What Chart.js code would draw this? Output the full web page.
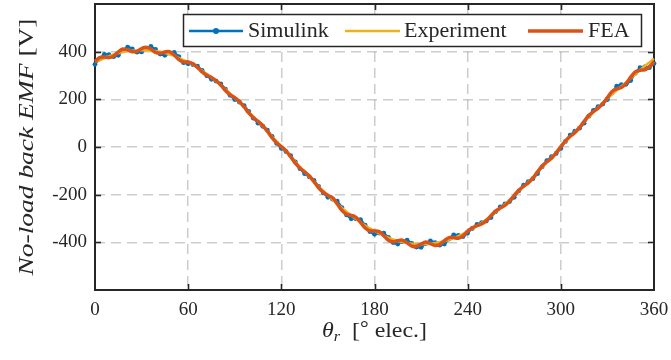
<!DOCTYPE html>
<html><head><meta charset="utf-8">
<script src="https://cdn.jsdelivr.net/npm/chart.js@4.4.0/dist/chart.umd.min.js"></script>
<style>html,body{margin:0;padding:0;background:#fff;}#wrap{width:671px;height:360px;}</style>
</head><body><div id="wrap"><canvas id="c" width="671" height="360"></canvas></div>
<script>
const thetaSim = [0,3,6,9,12,15,18,21,24,27,30,33,36,39,42,45,48,51,54,57,60,63,66,69,72,75,78,81,84,87,90,93,96,99,102,105,108,111,114,117,120,123,126,129,132,135,138,141,144,147,150,153,156,159,162,165,168,171,174,177,180,183,186,189,192,195,198,201,204,207,210,213,216,219,222,225,228,231,234,237,240,243,246,249,252,255,258,261,264,267,270,273,276,279,282,285,288,291,294,297,300,303,306,309,312,315,318,321,324,327,330,333,336,339,342,345,348,351,354,357,360];
const simulink = [347,369,389,387,379,385,405,419,412,398,399,413,422,409,390,385,394,397,379,354,
  349,346,339,321,299,284,276,265,243,217,199,188,174,149,121,100,87,71,45,15,-6,-19,-36,-62,-91,-112,-125,-140,-165,-192,-211,
  -219,-227,-254,-285,-301,-301,-305,-328,-355,-366,-361,-361,-379,-401,-407,-397,-391,-404,-420,-421,-405,-394,-401,-412,-407,-386,-369,-371,-376,
  -361,-342,-325,-317,-311,-296,-272,-251,-239,-229,-211,-184,-160,-145,-133,-112,-83,-57,-41,-27,-6,23,50,66,79,100,129,154,169,180,199,
  227,255,262,263,279,309,333,336,333,350];
const thetaFea = thetaSim;
const fea = [358,375,378,375,382,399,411,408,400,401,413,419,411,397,393,399,400,386,367,357,
  357,349,334,315,301,292,279,260,237,219,207,191,169,143,123,108,90,66,39,17,2,-16,-41,-68,-89,-104,-122,-145,-171,-190,-203,
  -213,-238,-266,-282,-287,-295,-316,-340,-352,-352,-355,-372,-391,-398,-393,-391,-402,-416,-417,-407,-399,-405,-413,-409,-393,-380,-380,-383,-373,
  -353,-339,-330,-323,-309,-288,-269,-256,-245,-227,-203,-181,-165,-151,-131,-104,-80,-62,-47,-25,2,26,45,60,81,108,132,149,163,182,207,
  233,244,250,266,293,315,322,324,336,358];
const thetaExp = [0,6,12,18,24,30,36,42,48,54,60,66,72,78,84,90,96,102,108,114,120,126,132,138,144,150,156,162,168,174,180,186,192,198,204,210,216,222,228,234,240,246,252,258,264,270,276,282,288,294,300,306,312,318,324,330,336,342,348,354,360];
const experiment = [358,372,388,398,404,406,405,400,389,374,356,333,306,276,243,206,167,127,86,44,2,-41,-83,-125,-165,-203,-239,-272,-302,-330,-352,-372,-388,-399,-406,-408,-406,-400,-389,-374,-354,-331,-304,-274,-240,-204,-166,-126,-85,-43,0,42,84,125,165,203,238,271,305,340,370];
const xTicks = [0,60,120,180,240,300,360];
const yTicks = [-400,-200,0,200,400];
const seriesNames = ['Simulink','Experiment','FEA'];
const seriesColors = ['#0072BD','#EDB120','#D95319'];

const TXT = '#262626';
const SERIF = '"Liberation Serif", "DejaVu Serif", serif';

function pts(xs, ys){ return xs.map((x,i)=>({x:x,y:ys[i]})); }

function drawRuns(ctx, runs, cx, base, targetW){
  let total = 0;
  runs.forEach(r=>{ ctx.font = r.font; r.w = ctx.measureText(r.text).width; total += r.w; });
  const s = targetW ? targetW/total : 1;
  ctx.save();
  ctx.translate(cx, base);
  ctx.scale(s,1);
  let x = -total/2;
  ctx.textBaseline = 'alphabetic';
  ctx.textAlign = 'left';
  runs.forEach(r=>{ ctx.font = r.font; ctx.fillText(r.text, x, r.dy||0); x += r.w; });
  ctx.restore();
}

const framePlugin = {
  id:'frame',
  beforeDatasetsDraw(chart){
    const {ctx, chartArea:a, scales} = chart;
    ctx.save();
    ctx.strokeStyle = TXT;
    ctx.lineWidth = 1.6;
    xTicks.forEach(v=>{
      if (v===0 || v===360) return;
      const px = Math.round(scales.x.getPixelForValue(v))+0.5;
      ctx.beginPath(); ctx.moveTo(px,a.bottom); ctx.lineTo(px,a.bottom-6); ctx.stroke();
      ctx.beginPath(); ctx.moveTo(px,a.top); ctx.lineTo(px,a.top+6); ctx.stroke();
    });
    yTicks.forEach(v=>{
      const py = Math.round(scales.y.getPixelForValue(v))+0.5;
      ctx.beginPath(); ctx.moveTo(a.left,py); ctx.lineTo(a.left+6,py); ctx.stroke();
      ctx.beginPath(); ctx.moveTo(a.right,py); ctx.lineTo(a.right-6,py); ctx.stroke();
    });
    ctx.lineWidth = 2;
    ctx.strokeRect(a.left, a.top, a.right-a.left, a.bottom-a.top);
    ctx.restore();
  },
  afterDraw(chart){
    const {ctx, chartArea:a} = chart;
    ctx.save();
    ctx.fillStyle = TXT;
    drawRuns(ctx, [
      {text:'θ', font:'italic 22px '+SERIF},
      {text:'r', font:'italic 15px '+SERIF, dy:4},
      {text:'  [', font:'22px '+SERIF},
      {text:'°', font:'20px '+SERIF, dy:-2},
      {text:' elec.]', font:'22px '+SERIF}
    ], (a.left+a.right)/2, 337, 105);
    ctx.save();
    ctx.translate(27, (a.top+a.bottom)/2);
    ctx.rotate(-Math.PI/2);
    drawRuns(ctx, [
      {text:'No-load back ', font:'italic 22px '+SERIF},
      {text:'EMF', font:'italic 22px '+SERIF},
      {text:' [V]', font:'22px '+SERIF}
    ], 0, 6, 257);
    ctx.restore();
    const L = {x:183, y:14, w:458, h:32};
    ctx.fillStyle = '#ffffff';
    ctx.fillRect(L.x, L.y, L.w, L.h);
    ctx.strokeStyle = TXT; ctx.lineWidth = 1.5;
    ctx.strokeRect(L.x+0.5, L.y+0.5, L.w, L.h);
    const items = [
      {x0:189, x1:243, tx:248, lw:2.5, marker:true},
      {x0:345, x1:400, tx:404, lw:2.5, marker:false},
      {x0:528, x1:583, tx:588, lw:3.5, marker:false}
    ];
    const ly = 31;
    items.forEach((it,i)=>{
      ctx.strokeStyle = seriesColors[i]; ctx.lineWidth = it.lw;
      ctx.beginPath(); ctx.moveTo(it.x0, ly); ctx.lineTo(it.x1, ly); ctx.stroke();
      if (it.marker){ ctx.fillStyle = seriesColors[i]; ctx.beginPath(); ctx.arc((it.x0+it.x1)/2, ly, 3, 0, Math.PI*2); ctx.fill(); }
      ctx.fillStyle = TXT;
      ctx.font = '22px '+SERIF;
      ctx.textBaseline = 'alphabetic'; ctx.textAlign = 'left';
      ctx.fillText(seriesNames[i], it.tx, 37);
    });
    ctx.restore();
  }
};

new Chart(document.getElementById('c'), {
  type:'line',
  data:{ datasets:[
    {label:seriesNames[0], data:pts(thetaSim, simulink), borderColor:seriesColors[0], backgroundColor:seriesColors[0], borderWidth:2, pointRadius:2.4, pointBorderWidth:0, pointBackgroundColor:seriesColors[0], tension:0.35, order:3, clip:false},
    {label:seriesNames[1], data:pts(thetaExp, experiment), borderColor:seriesColors[1], backgroundColor:seriesColors[1], borderWidth:2.5, pointRadius:0, tension:0.4, order:2, clip:false},
    {label:seriesNames[2], data:pts(thetaFea, fea), borderColor:seriesColors[2], backgroundColor:seriesColors[2], borderWidth:3.5, pointRadius:0, tension:0.4, order:1, clip:false}
  ]},
  options:{
    responsive:false, animation:false, devicePixelRatio:1,
    layout:{padding:{top:4, right:17, left:0, bottom:0}},
    plugins:{legend:{display:false}, tooltip:{enabled:false}},
    scales:{
      x:{type:'linear', min:0, max:360,
        afterBuildTicks:s=>{ s.ticks = xTicks.map(v=>({value:v})); },
        afterFit:s=>{ s.height = 70; s.paddingLeft = 0; s.paddingRight = 0; },
        ticks:{color:TXT, font:{family:SERIF, size:19}, padding:9, maxRotation:0, autoSkip:false},
        grid:{color:'rgba(0,0,0,0.2)', lineWidth:c=>(c.tick && (c.tick.value===0||c.tick.value===360))?0:1.5, drawTicks:false},
        border:{display:false, dash:[10,6]}
      },
      y:{type:'linear', min:-600, max:600,
        afterBuildTicks:s=>{ s.ticks = yTicks.map(v=>({value:v})); },
        afterFit:s=>{ s.width = 95; s.paddingTop = 0; s.paddingBottom = 0; },
        ticks:{color:TXT, font:{family:SERIF, size:19}, padding:8, autoSkip:false},
        grid:{color:'rgba(0,0,0,0.2)', lineWidth:1.5, drawTicks:false},
        border:{display:false, dash:[10,6]}
      }
    }
  },
  plugins:[framePlugin]
});
</script>
</body></html>
